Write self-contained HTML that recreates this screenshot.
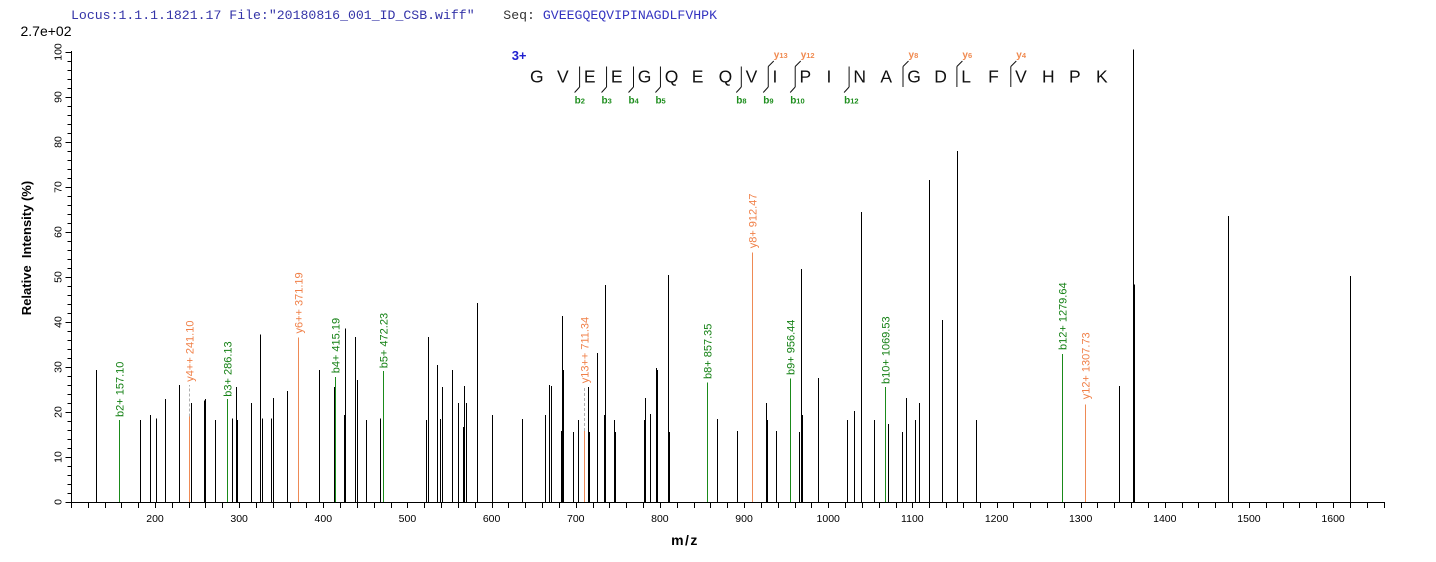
<!DOCTYPE html>
<html><head><meta charset="utf-8"><style>
html,body{margin:0;padding:0;background:#fff;}
svg{display:block;}
text{font-family:"Liberation Sans",Arial,sans-serif;}
.mono{font-family:"Liberation Mono","Courier New",monospace;}
</style></head><body>
<svg width="1436" height="562" viewBox="0 0 1436 562" xmlns="http://www.w3.org/2000/svg">
<rect width="1436" height="562" fill="#fff"/>

<!-- header -->
<text class="mono" x="71" y="19" font-size="13.2" fill="#3434a8">Locus:1.1.1.1821.17 File:"20180816_001_ID_CSB.wiff"</text>
<text class="mono" x="503.3" y="19" font-size="13.2" fill="#333">Seq: <tspan fill="#3434c0">GVEEGQEQVIPINAGDLFVHPK</tspan></text>
<text x="20.5" y="36" font-size="14" fill="#000">2.7e+02</text>

<!-- axes -->
<g stroke="#000" stroke-width="1" shape-rendering="crispEdges" fill="none">
<line x1="71.5" y1="51" x2="71.5" y2="502.5"/>
<line x1="71" y1="502.5" x2="1384" y2="502.5"/>
</g>

<g id="yticks" stroke="#000" stroke-width="1" shape-rendering="crispEdges"></g>
<g id="ylabels" font-size="10.5" fill="#000"></g>
<g id="xticks" stroke="#000" stroke-width="1" shape-rendering="crispEdges"></g>
<g id="xlabels" font-size="10.5" fill="#000" text-anchor="middle"></g>

<text transform="translate(31,248) rotate(-90)" text-anchor="middle" font-size="13" font-weight="bold" fill="#000" xml:space="preserve">Relative  Intensity (%)</text>
<text x="685" y="545" text-anchor="middle" font-size="14" font-weight="bold" letter-spacing="1.5" fill="#000">m/z</text>

<!-- peaks -->
<g id="peaks" shape-rendering="crispEdges" stroke-width="1"></g>
<g id="plabels" font-size="11"></g>

<!-- sequence -->
<text x="511.7" y="60" font-size="13" font-weight="bold" fill="#2020d0">3+</text>
<g id="seq" font-size="17.5" fill="#111"></g>
<g id="cleave" stroke="#111" stroke-width="1" fill="none"></g>
<g id="clabels" font-weight="bold"></g>
</svg>
<script>
var NS="http://www.w3.org/2000/svg";
function el(parent,tag,attrs,txt){var e=document.createElementNS(NS,tag);for(var k in attrs)e.setAttribute(k,attrs[k]);if(txt!==undefined)e.textContent=txt;document.getElementById(parent).appendChild(e);return e;}
// y ticks
for(var v=0;v<=100;v+=2){var y=Math.round(502-4.5*v)+0.5;var major=(v%10===0);
el("yticks","line",{x1:major?65.5:67.5,y1:y,x2:71,y2:y});
if(major){el("ylabels","text",{transform:"translate(61.5,"+(502-4.5*v)+") rotate(-90)","text-anchor":"middle"},String(v));}}
// x ticks
function X(m){return 155+(m-200)*0.8415;}
for(var m=100;m<=1660;m+=20){var x=Math.round(X(m))+0.5;el("xticks","line",{x1:x,y1:502,x2:x,y2:508});
if(m%100===0&&m>=200&&m<=1600){el("xlabels","text",{x:X(m),y:522},String(m));}}
// black peaks
var pk=[[96,370],[140,420],[150,415],[156,418.7],[165,399],[179,385],[191,403],[204,400.7],[205,399],[215,420],[232,418.7],[236,387],[237,420],[251,403],[260,334.7],[262,418.7],[271,418.7],[273,398],[287,391],[319,370],[334,387],[344,415],[345,328.3],[355,337],[357,380],[366,420],[380,418.7],[426,420],[428,337],[437,365],[440,419],[442,387],[452,370],[458,403],[463,427],[464,386],[466,403],[477,303],[492,415],[522,419],[545,415],[549,385],[551,386],[561,431],[562,316],[563,370],[573,432],[578,420],[588,387],[589,432],[597,353],[604,415],[605,285],[614,420],[615,432],[644,420],[645,398],[650,414],[656,368],[657,370],[668,275],[669,432],[717,419],[737,431],[766,403],[767,420],[776,431],[799,432],[801,269],[802,415],[818,378],[847,420],[854,411],[861,212],[874,420],[888,424],[902,432],[906,398],[915,420],[919,403],[929,180],[942,320],[957,151],[976,420],[1119,386],[1133,49.3],[1134,284.3],[1228,216],[1350,276]];
var G="#1a8a1a",O="#ee8a55";
// colored peaks first: [x,top,color,label,labelStart,dashedTop]
var cp=[[119,420,G,"b2+ 157.10",417],[189,416.7,O,"y4++ 241.10",381.7,385],[227,399,G,"b3+ 286.13",396.7],[298,337.3,O,"y6++ 371.19",333.5],[335,377,G,"b4+ 415.19",373.3],[383,371,G,"b5+ 472.23",368.3],[584,431,O,"y13++ 711.34",383.3,386.7],[707,382.3,G,"b8+ 857.35",379],[752,252.3,O,"y8+ 912.47",248.3],[790,378.3,G,"b9+ 956.44",375],[885,387,G,"b10+ 1069.53",384],[1062,354,G,"b12+ 1279.64",350],[1085,404.3,O,"y12+ 1307.73",399.3]];
cp.forEach(function(p){var x=p[0]+0.5;
el("peaks","line",{x1:x,y1:502,x2:x,y2:p[1],stroke:p[2]});
if(p[5]){el("peaks","line",{x1:x,y1:p[1],x2:x,y2:p[5],stroke:"#b0b0b0","stroke-dasharray":"3,2"});}
el("plabels","text",{transform:"translate("+(p[0]+4.5)+","+p[4]+") rotate(-90)",fill:p[2]===G?"#138013":"#f08048"},p[3]);});
pk.forEach(function(p){var x=p[0]+0.5;el("peaks","line",{x1:x,y1:502,x2:x,y2:p[1],stroke:"#000"});});
// sequence
var seq="GVEEGQEQVIPINAGDLFVHPK";
for(var i=0;i<seq.length;i++){el("seq","text",{x:530+i*26.95,y:82.5},seq[i]);}
function cx(i){return 530+i*26.95-4.3;}
var bs=[[2,"2"],[3,"3"],[4,"4"],[5,"5"],[8,"8"],[9,"9"],[10,"10"],[12,"12"]];
var ys=[[9,"13"],[10,"12"],[14,"8"],[16,"6"],[18,"4"]];
var used={};
bs.concat(ys).forEach(function(b){var i=b[0];if(used[i])return;used[i]=1;var x=cx(i);
el("cleave","line",{x1:x,y1:66.5,x2:x,y2:87});});
bs.forEach(function(b){var x=cx(b[0]);el("cleave","line",{x1:x,y1:87,x2:x-5,y2:92.5});
var t=el("clabels","text",{x:x-5,y:103.5,fill:"#1e8e1e","font-size":"10"},"b");
var s=document.createElementNS(NS,"tspan");s.setAttribute("font-size","7.5");s.textContent=b[1];t.appendChild(s);});
ys.forEach(function(b){var x=cx(b[0]);el("cleave","line",{x1:x,y1:66.5,x2:x+5.5,y2:61});
var t=el("clabels","text",{x:x+5.5,y:58,fill:"#f08a50","font-size":"10"},"y");
var s=document.createElementNS(NS,"tspan");s.setAttribute("font-size","7.5");s.textContent=b[1];t.appendChild(s);});
</script>
</body></html>
